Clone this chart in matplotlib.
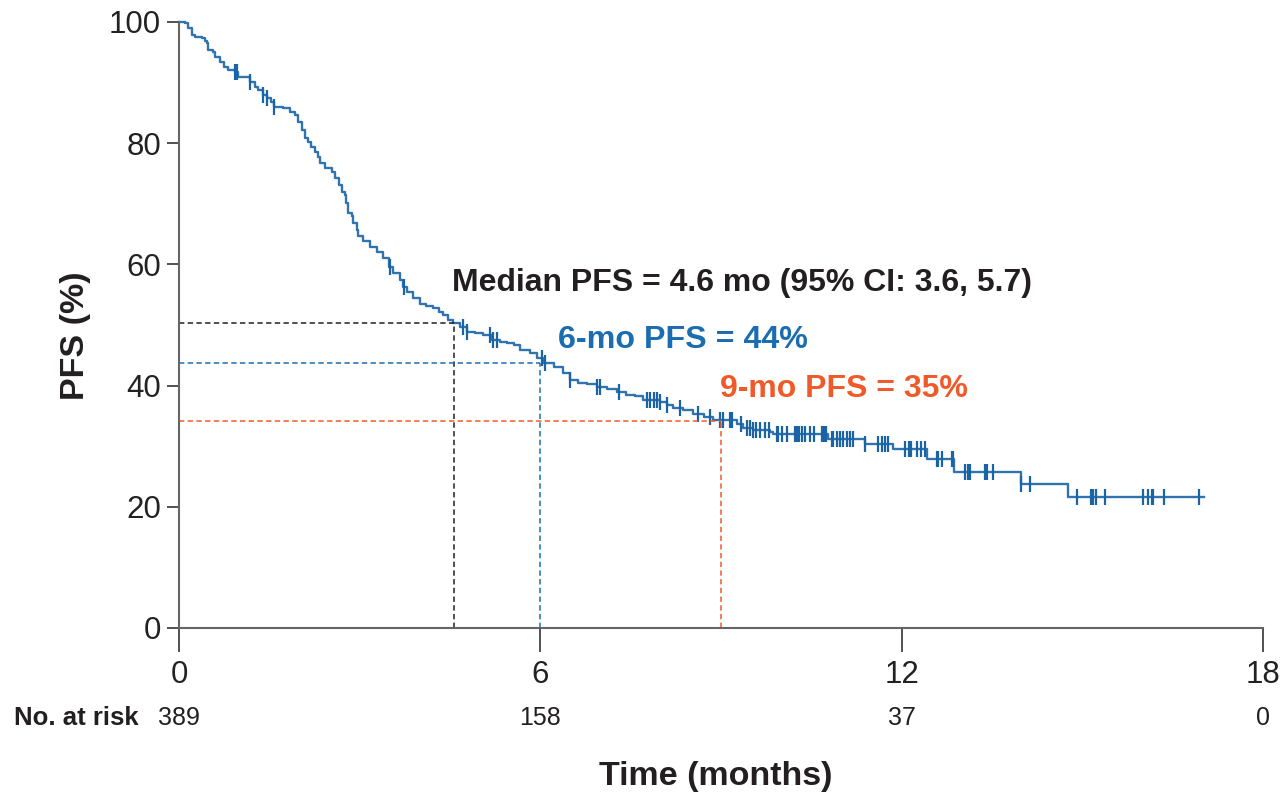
import numpy as np
import matplotlib
matplotlib.use('Agg')
import matplotlib.pyplot as plt
import matplotlib.transforms as mtransforms

plt.rcParams['font.family'] = ['Liberation Sans', 'DejaVu Sans']

# Kaplan-Meier steps (months, PFS %)
km_time = [0, 0.10, 0.15, 0.21, 0.27, 0.38, 0.43, 0.47, 0.49, 0.57, 0.60, 0.68, 0.74, 0.82,
           0.93, 0.98, 1.18, 1.26, 1.32, 1.40, 1.46, 1.52, 1.57, 1.73, 1.85, 1.93, 1.98,
           2.04, 2.09, 2.15, 2.20, 2.26, 2.31, 2.34, 2.42, 2.54, 2.59, 2.65, 2.70, 2.76,
           2.77, 2.81, 2.87, 2.89, 2.95, 2.98, 3.06, 3.17, 3.28, 3.39, 3.48, 3.56, 3.67,
           3.72, 3.78, 3.89, 4.00, 4.11, 4.22, 4.31, 4.39, 4.47, 4.55, 4.67, 4.78, 4.92,
           5.05, 5.19, 5.33, 5.44, 5.56, 5.66, 5.83, 5.94, 6.05, 6.22, 6.38, 6.49, 6.63,
           6.77, 6.94, 7.10, 7.27, 7.43, 7.57, 7.71, 7.99, 8.10, 8.21, 8.37, 8.54, 8.71,
           8.87, 9.09, 9.26, 9.37, 9.54, 9.81, 9.87, 10.78, 11.39, 11.86, 12.42, 12.87, 13.98,
           14.76, 17.02]
km_surv = [100, 99.8, 99.0, 97.9, 97.6, 97.3, 96.8, 96.5, 95.4, 95.1, 94.3, 93.4, 92.6, 92.1,
           91.8, 91.0, 90.1, 89.3, 88.8, 88.0, 87.4, 86.8, 86.0, 85.8, 85.2, 84.7, 83.5,
           82.2, 80.8, 80.2, 79.4, 78.6, 77.8, 76.7, 75.9, 75.3, 74.2, 73.1, 72.0, 71.5,
           70.1, 68.4, 67.9, 66.8, 65.7, 64.6, 63.8, 62.9, 62.1, 61.0, 59.6, 58.5, 57.4,
           56.3, 55.5, 54.4, 53.5, 53.1, 52.8, 52.2, 51.6, 50.8, 50.3, 49.7, 48.9, 48.6,
           48.3, 47.5, 47.2, 47.0, 46.7, 45.9, 45.3, 44.5, 43.7, 43.1, 42.0, 41.0, 40.5,
           40.3, 39.8, 39.4, 39.0, 38.4, 38.2, 37.7, 37.3, 36.8, 36.3, 36.0, 35.3, 34.8,
           34.4, 34.3, 33.6, 33.0, 32.7, 32.3, 32.0, 31.2, 30.3, 29.5, 27.8, 25.8, 23.8,
           21.6, 21.6]

censor_time = [0.93, 0.95, 0.97, 1.18, 1.40, 1.46, 1.58, 3.50, 3.74, 4.72, 4.78, 5.16, 5.22,
               5.28, 6.02, 6.08, 6.49, 6.94, 6.99, 7.31, 7.77, 7.82, 7.88, 7.93, 7.99, 8.10,
               8.32, 8.62, 8.82, 8.98, 9.04, 9.15, 9.18, 9.34, 9.43, 9.48, 9.54, 9.59, 9.65,
               9.73, 9.79, 9.93, 9.95, 10.01, 10.09, 10.23, 10.26, 10.30, 10.34, 10.40, 10.48,
               10.54, 10.67, 10.70, 10.72, 10.75, 10.84, 10.86, 10.92, 10.98, 11.03, 11.09,
               11.14, 11.20, 11.39, 11.61, 11.67, 11.72, 11.78, 12.06, 12.13, 12.16, 12.25,
               12.33, 12.39, 12.58, 12.61, 12.67, 12.83, 12.86, 13.05, 13.11, 13.14, 13.38,
               13.41, 13.52, 13.98, 14.14, 14.92, 15.14, 15.18, 15.23, 15.38, 16.00, 16.09,
               16.15, 16.18, 16.35, 16.94]

# landmark estimates
median_t, median_s = 4.57, 50.3
pfs6_t, pfs6_s = 6.0, 43.8
pfs9_t, pfs9_s = 9.0, 34.1

risk_times = [0, 6, 12, 18]
risk_counts = [389, 158, 37, 0]

curve_c = '#1a64a6'
blue_c = '#1b6db2'
orange_c = '#f05a28'
black_c = '#231f20'

fig = plt.figure(figsize=(12.84, 7.96), dpi=100)
ax = fig.add_axes([0.1394, 0.2111, 0.8442, 0.7613])

ax.step(km_time, km_surv, where='post', color=curve_c, lw=1.7, alpha=0.9, clip_on=False)
idx = np.searchsorted(km_time, censor_time, side='right') - 1
cens_y = np.array(km_surv)[idx]
ax.plot(censor_time, cens_y, ls='none', marker='|', ms=11, mew=1.6, color=curve_c, clip_on=False)

dash = (0, (3.5, 2.2))
ax.plot([0, median_t], [median_s, median_s], color=black_c, lw=1.1, ls=dash)
ax.plot([median_t, median_t], [0, median_s], color=black_c, lw=1.1, ls=dash)
ax.plot([0, pfs6_t], [pfs6_s, pfs6_s], color=blue_c, lw=1.1, ls=dash)
ax.plot([pfs6_t, pfs6_t], [0, pfs6_s], color=blue_c, lw=1.1, ls=dash)
ax.plot([0, pfs9_t], [pfs9_s, pfs9_s], color=orange_c, lw=1.1, ls=dash)
ax.plot([pfs9_t, pfs9_t], [0, pfs9_s], color=orange_c, lw=1.1, ls=dash)

ax.text(4.53, 57.0, 'Median PFS = 4.6 mo (95% CI: 3.6, 5.7)', fontsize=23,
        fontweight='bold', color=black_c, va='center', ha='left')
ax.text(6.29, 47.5, '6-mo PFS = 44%', fontsize=23.2, fontweight='bold',
        color=blue_c, va='center', ha='left')
ax.text(8.98, 39.4, '9-mo PFS = 35%', fontsize=23, fontweight='bold',
        color=orange_c, va='center', ha='left')

ax.set_xlim(0, 18)
ax.set_ylim(0, 100)
ax.set_xticks([0, 6, 12, 18])
ax.set_yticks([0, 20, 40, 60, 80, 100])
for s in ['top', 'right']:
    ax.spines[s].set_visible(False)
for s in ['left', 'bottom']:
    ax.spines[s].set_color('#666666')
    ax.spines[s].set_linewidth(1.5)
ax.tick_params(axis='x', length=17, width=1.2, color='#333333', pad=6,
               labelsize=22.5, labelcolor='#222222')
ax.tick_params(axis='y', length=9, width=1.2, color='#333333', pad=4,
               labelsize=22.5, labelcolor='#222222')

ax.set_ylabel('PFS (%)', fontsize=24.5, fontweight='bold', color=black_c)
ax.yaxis.set_label_coords(-0.081, 0.482)

# number at risk row
trans = mtransforms.blended_transform_factory(ax.transData, ax.transAxes)
for t, n in zip(risk_times, risk_counts):
    ax.text(t, -0.149, str(n), transform=trans, fontsize=18, ha='center', va='center',
            color=black_c)
fig.text(14 / 1284, 1 - 718 / 796, 'No. at risk', fontsize=18.5, fontweight='bold',
         color=black_c, ha='left', va='center')

fig.text(716 / 1284, 1 - 776 / 796, 'Time (months)', fontsize=24.5, fontweight='bold',
         color=black_c, ha='center', va='center')

fig.savefig('out.png', dpi=100, facecolor='white')
